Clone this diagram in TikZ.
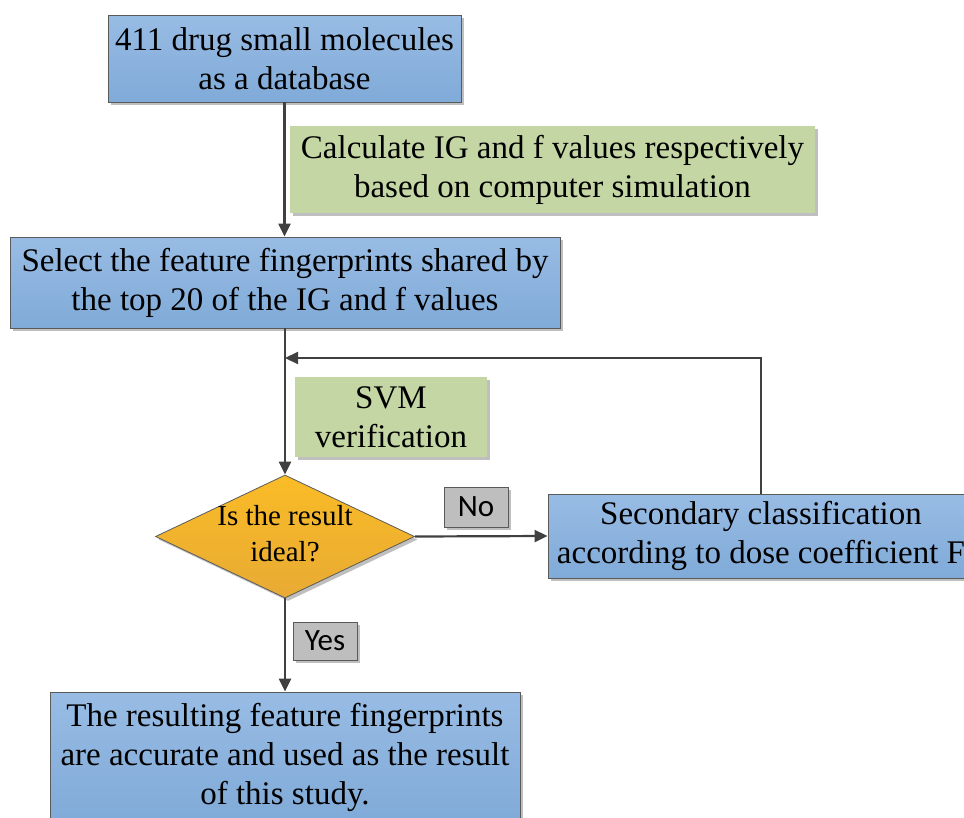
\documentclass[tikz,border=0pt]{standalone}
\usepackage{fontspec}
\setmainfont{Liberation Serif}
\newfontfamily\yesnofont{Carlito}
\usetikzlibrary{shapes.geometric,arrows.meta,shadows}

\definecolor{bluetop}{RGB}{152,188,228}
\definecolor{bluebottom}{RGB}{128,170,216}
\definecolor{boxgreen}{RGB}{196,214,164}
\definecolor{orangetop}{RGB}{250,188,38}
\definecolor{orangebottom}{RGB}{232,170,52}
\definecolor{boxgray}{RGB}{190,190,190}
\definecolor{edgegray}{RGB}{90,90,90}
\definecolor{linegray}{RGB}{64,64,64}

\begin{document}
\begin{tikzpicture}[x=1pt,y=-1pt,
        every node/.style={align=center, inner sep=0pt, font=\fontsize{33}{39}\selectfont},
        boxshadow/.style={drop shadow={shadow xshift=3pt, shadow yshift=-3pt, fill=black, opacity=0.25}},
        stepbox/.style={rectangle, draw=edgegray, line width=0.8pt, top color=bluetop, bottom color=bluebottom, boxshadow},
        notebox/.style={rectangle, fill=boxgreen, boxshadow},
        decision/.style={diamond, draw=edgegray, line width=0.8pt, top color=orangetop, bottom color=orangebottom, boxshadow},
        answer/.style={rectangle, draw=edgegray, line width=0.8pt, fill=boxgray, boxshadow,
            minimum width=64pt, font=\yesnofont\fontsize{31}{35}\selectfont},
        arr/.style={draw=linegray, line width=2.2pt, -{Triangle[length=13pt,width=12pt]}}]
    \path[use as bounding box] (0,0) rectangle (964,817);
    \clip (0,0) rectangle (964,817);

    \node[stepbox, minimum width=353pt, minimum height=87pt] (db) at (284.5,58.5)
        {411 drug small molecules\\as a database};
    \node[notebox, minimum width=525pt, minimum height=87pt] (calc) at (552.5,169.5)
        {Calculate IG and f values respectively\\based on computer simulation};
    \node[stepbox, minimum width=550pt, minimum height=91pt] (sel) at (285,282.5)
        {Select the feature fingerprints shared by\\the top 20 of the IG and f values};
    \node[notebox, minimum width=192pt, minimum height=80pt] (svm) at (391,417)
        {SVM\\verification};
    \node[decision, minimum width=259pt, minimum height=123pt] (ideal) at (285,536.5) {};
    \node[font=\fontsize{29}{36}\selectfont] (idealtext) at (285,534) {Is the result\\ideal?};
    \node[stepbox, minimum width=426pt, minimum height=84pt] (sec) at (761,536)
        {Secondary classification\\according to dose coefficient F};
    \node[answer, minimum height=40pt] (no) at (476,507) {No};
    \node[answer, minimum height=38pt] (yes) at (325,641) {Yes};
    \node[stepbox, minimum width=470pt, minimum height=130pt] (res) at (285,757)
        {The resulting feature fingerprints\\are accurate and used as the result\\of this study.};

    \coordinate (back) at (285,358);

    \draw[arr] (db.south) -- (db.south |- sel.north);
    \draw[arr] (sel.south) -- (ideal.north);
    \draw[arr] (sec.north) |- (back);
    \draw[arr] (ideal.east) -- (sec.west);
    \draw[arr] (ideal.south) -- (res.north);
\end{tikzpicture}
\end{document}
